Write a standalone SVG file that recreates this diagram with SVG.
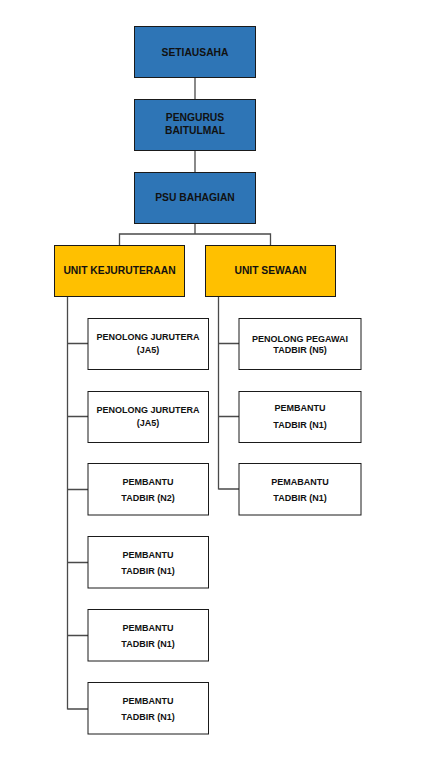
<svg xmlns="http://www.w3.org/2000/svg" width="421" height="773" viewBox="0 0 421 773">
<style>
.blue{fill:#2E75B6;stroke:#1a1a1a;stroke-width:1}
.yel{fill:#FFC000;stroke:#1a1a1a;stroke-width:1}
.wht{fill:#fff;stroke:#1a1a1a;stroke-width:1}
text{font-family:"Liberation Sans",Arial,sans-serif;font-weight:bold;fill:#111;text-anchor:middle}
.t{font-size:10.3px}
.c{font-size:9px}
.ln{fill:none;stroke:#4a4a4a;stroke-width:1.3}
</style>
<rect width="421" height="773" fill="#fff"/>
<g id="connectors">
<path class="ln" d="M195 77.5V99.5M195 150.5V172.5M195 223.5V234H119.5V245M195 234H270.5V245"/>
<path class="ln" d="M67.5 296V709.5M67.5 343.5H88M67.5 416.5H88M67.5 489.5H88M67.5 562.5H88M67.5 635.5H88M67.5 709H88"/>
<path class="ln" d="M218.5 296V489.5M218.5 343.5H239M218.5 416.5H239M218.5 489H239"/>
</g>
<g id="setiausaha"><rect class="blue" x="134.5" y="26.5" width="121" height="51"/><text class="t" x="195" y="55.5">SETIAUSAHA</text></g>
<g id="pengurus"><rect class="blue" x="134.5" y="99.5" width="121" height="51"/><text class="t" x="195" y="121">PENGURUS</text><text class="t" x="195" y="134">BAITULMAL</text></g>
<g id="psu"><rect class="blue" x="134.5" y="172.5" width="121" height="51"/><text class="t" x="195" y="200.5">PSU BAHAGIAN</text></g>
<g id="unit-kejuruteraan"><rect class="yel" x="54.5" y="245.5" width="130" height="51"/><text class="t" x="119.5" y="274">UNIT KEJURUTERAAN</text></g>
<g id="unit-sewaan"><rect class="yel" x="205.5" y="245.5" width="130" height="51"/><text class="t" x="270.5" y="274">UNIT SEWAAN</text></g>
<g id="k1"><rect class="wht" x="88" y="318.5" width="120.5" height="51"/><text class="c" x="148" y="340">PENOLONG JURUTERA</text><text class="c" x="148" y="352.5">(JA5)</text></g>
<g id="k2"><rect class="wht" x="88" y="391.5" width="120.5" height="51"/><text class="c" x="148" y="413">PENOLONG JURUTERA</text><text class="c" x="148" y="425.5">(JA5)</text></g>
<g id="k3"><rect class="wht" x="88" y="463.5" width="120.5" height="51.5"/><text class="c" x="148" y="485">PEMBANTU</text><text class="c" x="148" y="501">TADBIR (N2)</text></g>
<g id="k4"><rect class="wht" x="88" y="536.5" width="120.5" height="51.5"/><text class="c" x="148" y="558">PEMBANTU</text><text class="c" x="148" y="574">TADBIR (N1)</text></g>
<g id="k5"><rect class="wht" x="88" y="609.5" width="120.5" height="51.5"/><text class="c" x="148" y="631">PEMBANTU</text><text class="c" x="148" y="647">TADBIR (N1)</text></g>
<g id="k6"><rect class="wht" x="88" y="682.5" width="120.5" height="51.5"/><text class="c" x="148" y="704">PEMBANTU</text><text class="c" x="148" y="720">TADBIR (N1)</text></g>
<g id="s1"><rect class="wht" x="239" y="318.5" width="122" height="51"/><text class="c" x="300" y="341.5">PENOLONG PEGAWAI</text><text class="c" x="300" y="353">TADBIR (N5)</text></g>
<g id="s2"><rect class="wht" x="239" y="391.5" width="122" height="51"/><text class="c" x="300" y="411">PEMBANTU</text><text class="c" x="300" y="427.5">TADBIR (N1)</text></g>
<g id="s3"><rect class="wht" x="239" y="463.5" width="122" height="51.5"/><text class="c" x="300" y="485">PEMABANTU</text><text class="c" x="300" y="501">TADBIR (N1)</text></g>
</svg>
